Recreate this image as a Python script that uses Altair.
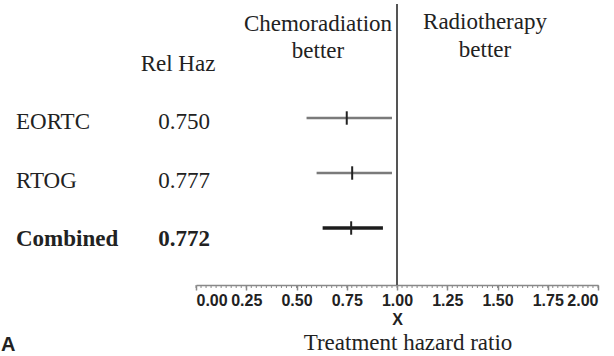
import altair as alt
import pandas as pd

# ---- data ----
studies = ["EORTC", "RTOG", "Combined"]
rel_haz = [0.750, 0.777, 0.772]
ci_low = [0.55, 0.60, 0.63]
ci_high = [0.975, 0.975, 0.93]
kind = ["trial", "trial", "pooled"]
rel_haz_text = ["0.750", "0.777", "0.772"]
major_ticks = [0.0, 0.25, 0.5, 0.75, 1.0, 1.25, 1.5, 1.75, 2.0]
minor_ticks = [round(i * 0.025, 3) for i in range(81)]
reference_line = [1.0]

df = pd.DataFrame({
    "study": studies,
    "row": list(range(len(studies))),
    "hr": rel_haz,
    "lo": ci_low,
    "hi": ci_high,
    "kind": kind,
    "label": rel_haz_text,
})
ticks_df = pd.DataFrame({"t": minor_ticks})
ref_df = pd.DataFrame({"ref": reference_line})

SERIF = "Liberation Serif"
SANS = "Liberation Sans"
INK = "#222222"
W, H = 402, 285

xscale = alt.Scale(domain=[0, 2], nice=False, zero=False)
yscale = alt.Scale(domain=[0, 2], range=[118, 228])
ytext = alt.Scale(domain=[0, 2], range=[122, 239])

xaxis = alt.Axis(
    values=major_ticks, format=".2f", orient="bottom", grid=False,
    domainColor="#888888", domainWidth=1.5,
    tickColor="#888888", tickWidth=1.5, tickSize=5,
    labelFont=SANS, labelFontSize=16, labelFontWeight="bold", labelColor=INK,
    labelFlush=True, labelOverlap=False, labelPadding=2,
    title="X", titleFont=SANS, titleFontSize=16, titleFontWeight="bold",
    titleColor=INK, titlePadding=3,
)

base = alt.Chart(df)

ci = base.mark_rule().encode(
    x=alt.X("lo:Q", scale=xscale, axis=xaxis),
    x2="hi:Q",
    y=alt.Y("row:Q", scale=yscale, axis=None),
    color=alt.Color("kind:N", scale=alt.Scale(domain=["trial", "pooled"],
                                              range=["#7a7a7a", "#1c1c1c"]), legend=None),
    strokeWidth=alt.StrokeWidth("kind:N", scale=alt.Scale(domain=["trial", "pooled"],
                                                          range=[2.5, 3.5]), legend=None),
)

est = base.mark_point(shape="M0,-1L0,1", filled=False, size=180, strokeWidth=2,
                      color=INK, opacity=1).encode(
    x=alt.X("hr:Q", scale=xscale, axis=xaxis),
    y=alt.Y("row:Q", scale=yscale, axis=None),
)

minor = alt.Chart(ticks_df).mark_rule(color="#888888", strokeWidth=1).encode(
    x=alt.X("t:Q", scale=xscale, axis=xaxis),
    y=alt.value(H),
    y2=alt.value(H + 3),
)

vline = alt.Chart(ref_df).mark_rule(color="#555555", strokeWidth=2).encode(
    x=alt.X("ref:Q", scale=xscale, axis=xaxis),
    y=alt.value(4),
    y2=alt.value(H),
)

txt_kw = dict(font=SERIF, fontSize=23, color=INK, baseline="middle")

names_plain = base.transform_filter("datum.kind == 'trial'").mark_text(
    align="left", **txt_kw).encode(
    x=alt.value(-180), y=alt.Y("row:Q", scale=ytext, axis=None), text="study:N")
names_bold = base.transform_filter("datum.kind == 'pooled'").mark_text(
    align="left", fontWeight="bold", **txt_kw).encode(
    x=alt.value(-180), y=alt.Y("row:Q", scale=ytext, axis=None), text="study:N")
vals_plain = base.transform_filter("datum.kind == 'trial'").mark_text(
    align="center", **txt_kw).encode(
    x=alt.value(-12), y=alt.Y("row:Q", scale=ytext, axis=None), text="label:N")
vals_bold = base.transform_filter("datum.kind == 'pooled'").mark_text(
    align="center", fontWeight="bold", **txt_kw).encode(
    x=alt.value(-12), y=alt.Y("row:Q", scale=ytext, axis=None), text="label:N")

def note(text, x, y, **kw):
    opts = dict(txt_kw)
    opts.update(kw)
    return alt.Chart(pd.DataFrame({"t": [0]})).mark_text(text=text, **opts).encode(
        x=alt.value(x), y=alt.value(y))

hdr_rel = note("Rel Haz", -18, 64, align="center")
hdr_chemo = note(["Chemoradiation", "better"], 122, 24, align="center", lineHeight=27)
hdr_radio = note(["Radiotherapy", "better"], 289, 22, align="center", lineHeight=28)
xlab = note("Treatment hazard ratio", 212, 343, align="center")
panel = note("A", -195, 345, align="left", font=SANS, fontWeight="bold", fontSize=20)

chart = alt.layer(
    ci, est, minor, vline,
    names_plain, names_bold, vals_plain, vals_bold,
    hdr_rel, hdr_chemo, hdr_radio, xlab, panel,
).resolve_scale(y="independent").properties(
    width=W, height=H,
    autosize=alt.AutoSizeParams(type="none"),
    padding={"left": 196, "right": 16, "top": 0, "bottom": 71},
    background="white",
).configure_view(stroke=None)

chart.save("out.html", embed_options={"renderer": "svg", "actions": False})
